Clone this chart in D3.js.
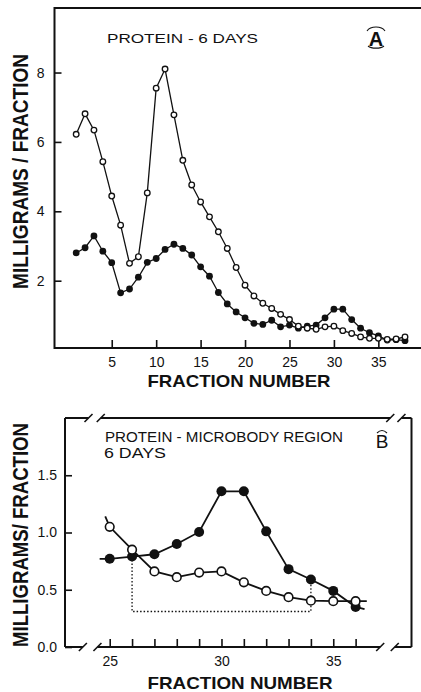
<!DOCTYPE html>
<html>
<head>
<meta charset="utf-8">
<script src="https://cdn.jsdelivr.net/npm/d3@7"></script>
<style>
  html, body { margin: 0; padding: 0; background: #fff; }
  svg { display: block; }
  text { font-family: "Liberation Sans", Arial, sans-serif; fill: #111; }
</style>
</head>
<body>
<svg id="chart" width="421" height="692"></svg>
<script>
// ---- panel A data: fractions 1..38 ----
const fractionsA = d3.range(1, 39);
const openA = [6.22, 6.81, 6.34, 5.43, 4.44, 3.6, 2.5, 2.69, 4.53, 7.55,
  8.1, 6.78, 5.47, 4.76, 4.27, 3.84, 3.41, 2.93, 2.38, 1.87,
  1.56, 1.35, 1.2, 1.03, 0.88, 0.69, 0.63, 0.6, 0.67, 0.69,
  0.56, 0.48, 0.38, 0.34, 0.34, 0.31, 0.32, 0.38];
const filledA = [2.8, 2.95, 3.29, 2.85, 2.52, 1.65, 1.76, 2.1, 2.53, 2.64,
  2.9, 3.05, 2.93, 2.74, 2.4, 2.13, 1.66, 1.33, 1.1, 0.93,
  0.77, 0.74, 0.86, 0.67, 0.72, 0.63, 0.69, 0.72, 0.93, 1.18,
  1.18, 0.88, 0.63, 0.5, 0.41, 0.29, 0.3, 0.27];
const yTicksA = [2, 4, 6, 8];
const xTicksA = [5, 10, 15, 20, 25, 30, 35];

// ---- panel B data: fractions 25..36 ----
const fractionsB = d3.range(25, 37);
const openB = [1.05, 0.85, 0.66, 0.61, 0.65, 0.66, 0.565, 0.49, 0.435, 0.405, 0.4, 0.4];
const filledB = [0.77, 0.79, 0.81, 0.9, 1.005, 1.36, 1.36, 1.01, 0.68, 0.59, 0.49, 0.35];
// the drawn lines run a little past the first and last points
const openBLineEnds = [[24.8, 1.14], [36.5, 0.4]];
const filledBLineEnds = [[24.55, 0.77], [36.4, 0.33]];
const dottedB = [[26, 0.79], [26, 0.31], [34, 0.31], [34, 0.56]];
const yTicksB = [0, 0.5, 1.0, 1.5];
const xTicksB = d3.range(25, 37);
const xLabelsB = [25, 30, 35];

const svg = d3.select("#chart");

function slash(g, x, y) {
  g.append("line")
    .attr("x1", x - 4).attr("y1", y + 4)
    .attr("x2", x + 4).attr("y2", y - 4)
    .attr("stroke", "#111").attr("stroke-width", 1.6);
}

// ================= PANEL A =================
const xA = d3.scaleLinear().domain([-1.44, 39.8]).range([54.5, 421]);
const yA = d3.scaleLinear().domain([0.06, 9.86]).range([348, 8]);
const gA = svg.append("g");

// frame (left + top + bottom)
gA.append("path")
  .attr("d", `M${xA.range()[1]},${yA.range()[1]} L${xA.range()[0]},${yA.range()[1]} L${xA.range()[0]},${yA.range()[0]} L${xA.range()[1]},${yA.range()[0]}`)
  .attr("fill", "none").attr("stroke", "#111").attr("stroke-width", 2);

const axLA = gA.append("g")
  .attr("transform", `translate(${xA.range()[0]},0)`)
  .call(d3.axisLeft(yA).tickValues(yTicksA).tickSize(-7).tickPadding(10).tickFormat(d3.format("d")));
const axBA = gA.append("g")
  .attr("transform", `translate(0,${yA.range()[0]})`)
  .call(d3.axisBottom(xA).tickValues(xTicksA).tickSize(-8).tickPadding(9).tickFormat(d3.format("d")));
[axLA, axBA].forEach(ax => {
  ax.select(".domain").remove();
  ax.selectAll("line").attr("stroke", "#111").attr("stroke-width", 1.6);
  ax.selectAll("text").style("font-size", "14px").attr("fill", "#111");
});

const lineA = d3.line().x(d => xA(d[0])).y(d => yA(d[1]));
const ptsOpenA = fractionsA.map((f, i) => [f, openA[i]]);
const ptsFilledA = fractionsA.map((f, i) => [f, filledA[i]]);

gA.append("path").attr("d", lineA(ptsFilledA))
  .attr("fill", "none").attr("stroke", "#111").attr("stroke-width", 1.3);
gA.append("path").attr("d", lineA(ptsOpenA))
  .attr("fill", "none").attr("stroke", "#111").attr("stroke-width", 1.3);

gA.selectAll(".fa").data(ptsFilledA).join("circle")
  .attr("cx", d => xA(d[0])).attr("cy", d => yA(d[1])).attr("r", 3.4)
  .attr("fill", "#111");
gA.selectAll(".oa").data(ptsOpenA).join("circle")
  .attr("cx", d => xA(d[0])).attr("cy", d => yA(d[1])).attr("r", 2.8)
  .attr("fill", "#fff").attr("stroke", "#111").attr("stroke-width", 1.3);

gA.append("text").attr("x", 107).attr("y", 43)
  .attr("textLength", 151).attr("lengthAdjust", "spacingAndGlyphs")
  .style("font-size", "13px").text("PROTEIN - 6 DAYS");

// circled A
gA.append("text").attr("x", 376).attr("y", 45.5).attr("text-anchor", "middle")
  .style("font-size", "20px").style("font-weight", "bold").text("A");
gA.append("path").attr("d", "M367,31 A10,7 0 0 1 385,31")
  .attr("fill", "none").attr("stroke", "#111").attr("stroke-width", 1.1);
gA.append("path").attr("d", "M368,46 A9,4 0 0 0 384,46")
  .attr("fill", "none").attr("stroke", "#111").attr("stroke-width", 1.1);

gA.append("text")
  .attr("transform", `translate(28,${(yA(9.5) + yA(0.8)) / 2 + 0}) rotate(-90)`)
  .attr("text-anchor", "middle")
  .attr("textLength", 235).attr("lengthAdjust", "spacingAndGlyphs")
  .style("font-size", "22px").style("font-weight", "bold")
  .text("MILLIGRAMS / FRACTION");

gA.append("text").attr("x", 239).attr("y", 387).attr("text-anchor", "middle")
  .attr("textLength", 183).attr("lengthAdjust", "spacingAndGlyphs")
  .style("font-size", "17px").style("font-weight", "bold")
  .text("FRACTION NUMBER");

// ================= PANEL B =================
const xB = d3.scaleLinear().domain([23, 38.5]).range([65, 411.5]);
const yB = d3.scaleLinear().domain([0, 2]).range([647, 418]);
const gB = svg.append("g");

const L = xB.range()[0], R = xB.range()[1], T = yB.range()[1], Bt = yB.range()[0];
const frame = (x1, y1, x2, y2) => gB.append("line")
  .attr("x1", x1).attr("y1", y1).attr("x2", x2).attr("y2", y2)
  .attr("stroke", "#111").attr("stroke-width", 2);
// left & right
frame(L, T, L, Bt);
frame(R, T, R, Bt);
// top with breaks
frame(L, T, xB(24.05), T); slash(gB, xB(24.05), T);
slash(gB, xB(24.6), T); frame(xB(24.6), T, xB(37.55), T); slash(gB, xB(37.55), T);
slash(gB, xB(38.05), T); frame(xB(38.05), T, R, T);
// bottom with breaks
frame(L, Bt, xB(23.8), Bt); slash(gB, xB(23.8), Bt);
slash(gB, xB(24.45), Bt); frame(xB(24.45), Bt, xB(37.1), Bt); slash(gB, xB(37.1), Bt);
slash(gB, xB(37.75), Bt); frame(xB(37.75), Bt, R, Bt);

const axLB = gB.append("g")
  .attr("transform", `translate(${L},0)`)
  .call(d3.axisLeft(yB).tickValues(yTicksB).tickSize(-7).tickPadding(8).tickFormat(d3.format(".1f")));
const axBB = gB.append("g")
  .attr("transform", `translate(0,${Bt})`)
  .call(d3.axisBottom(xB).tickValues(xTicksB).tickSize(-8).tickPadding(9)
    .tickFormat(d => xLabelsB.includes(d) ? d : ""));
[axLB, axBB].forEach(ax => {
  ax.select(".domain").remove();
  ax.selectAll("line").attr("stroke", "#111").attr("stroke-width", 1.6);
  ax.selectAll("text").style("font-size", "14px").attr("fill", "#111");
});

const lineB = d3.line().x(d => xB(d[0])).y(d => yB(d[1]));
const ptsOpenB = fractionsB.map((f, i) => [f, openB[i]]);
const ptsFilledB = fractionsB.map((f, i) => [f, filledB[i]]);

gB.append("path").attr("d", lineB(dottedB))
  .attr("fill", "none").attr("stroke", "#111").attr("stroke-width", 1.3)
  .attr("stroke-dasharray", "1.5,2");

gB.append("path").attr("d", lineB([filledBLineEnds[0], ...ptsFilledB, filledBLineEnds[1]]))
  .attr("fill", "none").attr("stroke", "#111").attr("stroke-width", 1.8);
gB.append("path").attr("d", lineB([openBLineEnds[0], ...ptsOpenB, openBLineEnds[1]]))
  .attr("fill", "none").attr("stroke", "#111").attr("stroke-width", 1.8);

gB.selectAll(".fb").data(ptsFilledB).join("circle")
  .attr("cx", d => xB(d[0])).attr("cy", d => yB(d[1])).attr("r", 5)
  .attr("fill", "#111");
gB.selectAll(".ob").data(ptsOpenB).join("circle")
  .attr("cx", d => xB(d[0])).attr("cy", d => yB(d[1])).attr("r", 4.3)
  .attr("fill", "#fff").attr("stroke", "#111").attr("stroke-width", 1.6);

gB.append("text").attr("x", 105).attr("y", 442)
  .attr("textLength", 238).attr("lengthAdjust", "spacingAndGlyphs")
  .style("font-size", "14px").text("PROTEIN - MICROBODY REGION");
gB.append("text").attr("x", 104).attr("y", 458)
  .attr("textLength", 62).attr("lengthAdjust", "spacingAndGlyphs")
  .style("font-size", "14px").text("6  DAYS");

gB.append("text").attr("x", 382).attr("y", 448).attr("text-anchor", "middle")
  .style("font-size", "19px").text("B");
gB.append("path").attr("d", "M377,433 Q382,428 387,433")
  .attr("fill", "none").attr("stroke", "#111").attr("stroke-width", 1.1);

gB.append("text")
  .attr("transform", `translate(28,535) rotate(-90)`)
  .attr("text-anchor", "middle")
  .attr("textLength", 224).attr("lengthAdjust", "spacingAndGlyphs")
  .style("font-size", "22px").style("font-weight", "bold")
  .text("MILLIGRAMS/ FRACTION");

gB.append("text").attr("x", 240).attr("y", 689).attr("text-anchor", "middle")
  .attr("textLength", 185).attr("lengthAdjust", "spacingAndGlyphs")
  .style("font-size", "17px").style("font-weight", "bold")
  .text("FRACTION NUMBER");
</script>
</body>
</html>
